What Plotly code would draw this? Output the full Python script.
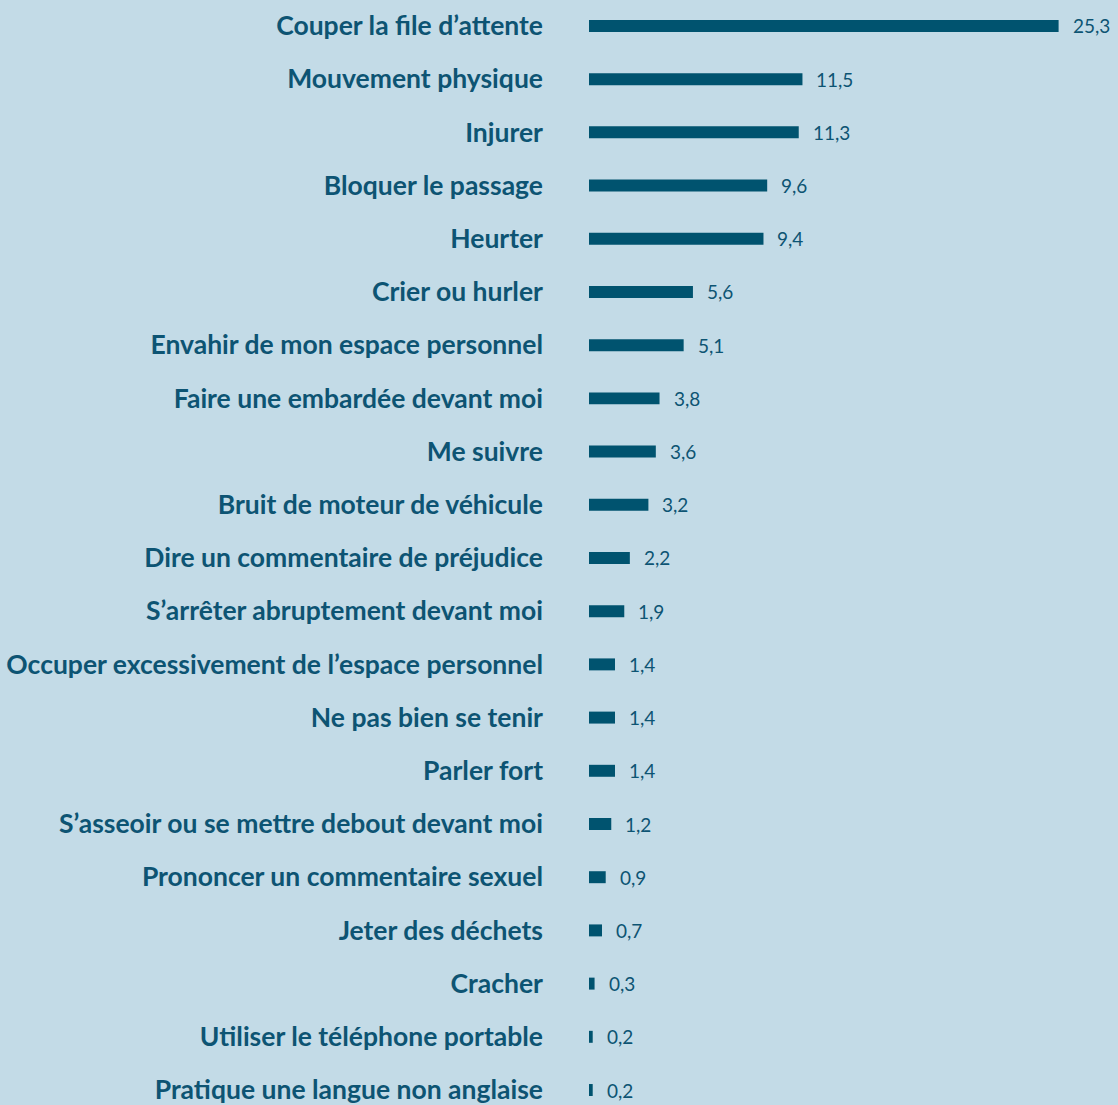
import plotly.graph_objects as go

categories = [
    "Couper la file d’attente",
    "Mouvement physique",
    "Injurer",
    "Bloquer le passage",
    "Heurter",
    "Crier ou hurler",
    "Envahir de mon espace personnel",
    "Faire une embardée devant moi",
    "Me suivre",
    "Bruit de moteur de véhicule",
    "Dire un commentaire de préjudice",
    "S’arrêter abruptement devant moi",
    "Occuper excessivement de l’espace personnel",
    "Ne pas bien se tenir",
    "Parler fort",
    "S’asseoir ou se mettre debout devant moi",
    "Prononcer un commentaire sexuel",
    "Jeter des déchets",
    "Cracher",
    "Utiliser le téléphone portable",
    "Pratique une langue non anglaise",
]
values = [25.3, 11.5, 11.3, 9.6, 9.4, 5.6, 5.1, 3.8, 3.6, 3.2, 2.2, 1.9, 1.4, 1.4, 1.4, 1.2, 0.9, 0.7, 0.3, 0.2, 0.2]

BG = "#c3dbe7"
BAR = "#00536f"
TXT = "#0d5473"

idx = list(range(len(categories)))

fig = go.Figure()
fig.add_trace(go.Bar(
    x=values, y=idx, orientation="h",
    marker=dict(color=BAR, line=dict(width=0)),
    width=0.225, hoverinfo="skip",
))

for i, v in zip(idx, values):
    fig.add_annotation(
        x=v, y=i, xref="x", yref="y",
        text=f"{v:.1f}".replace(".", ","),
        showarrow=False, xanchor="left", yanchor="middle", xshift=12,
        font=dict(family="Lato", size=19, color=TXT),
    )

fig.update_layout(
    width=1118, height=1105,
    margin=dict(l=589, r=0, t=0, b=0),
    paper_bgcolor=BG, plot_bgcolor=BG,
    showlegend=False,
    xaxis=dict(range=[0, 28.5], visible=False, showgrid=False, zeroline=False),
    yaxis=dict(
        range=[20.244, -0.4878],
        tickvals=idx, ticktext=categories,
        showgrid=False, zeroline=False, showline=False, ticks="",
        ticklabelstandoff=45,
        ticklabeloverflow="allow",
        tickfont=dict(family="Lato", size=26.5, color=TXT, weight="bold"),
    ),
)

fig.write_html("out.html")
